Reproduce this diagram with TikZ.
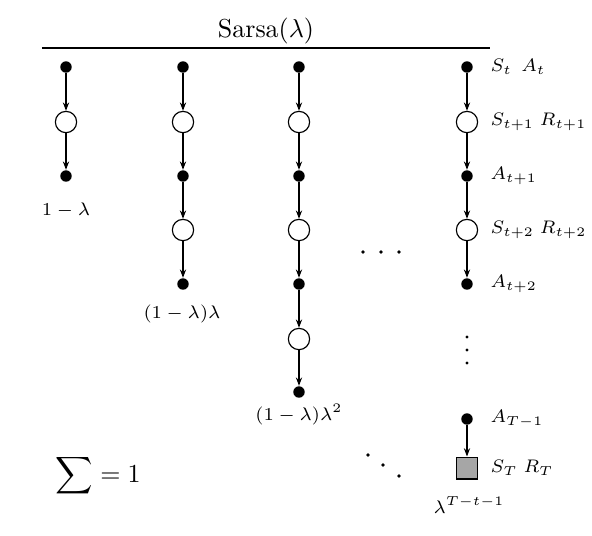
\documentclass[tikz,border=0pt]{standalone}
\usetikzlibrary{arrows.meta}
\begin{document}
\begin{tikzpicture}[x=0.385pt,y=-0.385pt,
  act/.style={circle,fill=black,inner sep=0pt,minimum size=4.4pt},
  st/.style={circle,draw,line width=0.45pt,fill=white,inner sep=0pt,minimum size=8.2pt},
  term/.style={rectangle,draw,line width=0.45pt,fill=black!35,inner sep=0pt,minimum size=8.4pt},
  sm/.style={circle,fill=black,inner sep=0pt,minimum size=1.3pt},
  arr/.style={-{Stealth[length=3.2pt,width=2.4pt]},line width=0.45pt},
  lab/.style={anchor=west,inner sep=0pt,font=\scriptsize},
  wt/.style={font=\scriptsize,inner sep=0pt}]
\useasboundingbox (0,0) rectangle (592,536);
% title
\node (title) at (266,31) {Sarsa($\lambda$)};
\coordinate (l1) at (42,48);
\coordinate (l2) at (490,48);
\draw[line width=0.45pt] (l1) -- (l2);
% column 1
\node[act] (a1) at (66,67) {};
\node[st]  (b1) at (66,122) {};
\node[act] (c1) at (66,176) {};
\draw[arr] (a1) -- (b1);
\draw[arr] (b1) -- (c1);
\node[wt] (w1) at (66,210) {$1-\lambda$};
% column 2
\node[act] (a2) at (183,67) {};
\node[st]  (b2) at (183,122) {};
\node[act] (c2) at (183,176) {};
\node[st]  (d2) at (183,230) {};
\node[act] (e2) at (183,284) {};
\draw[arr] (a2) -- (b2);
\draw[arr] (b2) -- (c2);
\draw[arr] (c2) -- (d2);
\draw[arr] (d2) -- (e2);
\node[wt] (w2) at (182,314) {$(1-\lambda)\lambda$};
% column 3
\node[act] (a3) at (299,67) {};
\node[st]  (b3) at (299,122) {};
\node[act] (c3) at (299,176) {};
\node[st]  (d3) at (299,230) {};
\node[act] (e3) at (299,284) {};
\node[st]  (f3) at (299,339) {};
\node[act] (g3) at (299,392) {};
\draw[arr] (a3) -- (b3);
\draw[arr] (b3) -- (c3);
\draw[arr] (c3) -- (d3);
\draw[arr] (d3) -- (e3);
\draw[arr] (e3) -- (f3);
\draw[arr] (f3) -- (g3);
\node[wt] (w3) at (299,415) {$(1-\lambda)\lambda^2$};
% column 4
\node[act] (a4) at (467,67) {};
\node[st]  (b4) at (467,122) {};
\node[act] (c4) at (467,176) {};
\node[st]  (d4) at (467,230) {};
\node[act] (e4) at (467,284) {};
\node[act] (f4) at (467,419) {};
\node[term] (g4) at (467,468) {};
\draw[arr] (a4) -- (b4);
\draw[arr] (b4) -- (c4);
\draw[arr] (c4) -- (d4);
\draw[arr] (d4) -- (e4);
\draw[arr] (f4) -- (g4);
\node[sm] (v1) at (467,337) {};
\node[sm] (v2) at (467,350) {};
\node[sm] (v3) at (467,363) {};
\node[wt] (w4) at (469,505) {$\lambda^{T-t-1}$};
% labels
\node[lab] (la) at (490,67) {$S_t\;\,A_t$};
\node[lab] (lb) at (490,122) {$S_{t+1}\;R_{t+1}$};
\node[lab] (lc) at (490,176) {$A_{t+1}$};
\node[lab] (ld) at (490,230) {$S_{t+2}\;R_{t+2}$};
\node[lab] (le) at (490,284) {$A_{t+2}$};
\node[lab] (lf) at (490,419) {$A_{T-1}$};
\node[lab] (lg) at (490,468) {$S_T\;R_T$};
% dots
\node[sm,minimum size=1.5pt] (h1) at (363,252) {};
\node[sm,minimum size=1.5pt] (h2) at (381,252) {};
\node[sm,minimum size=1.5pt] (h3) at (399,252) {};
\node[sm,minimum size=1.5pt] (d1) at (368,455) {};
\node[sm,minimum size=1.5pt] (dd2) at (383,465) {};
\node[sm,minimum size=1.5pt] (dd3) at (399,476) {};
% sum
\node[anchor=west,inner sep=0pt] (sum) at (55,476) {$\displaystyle\sum=1$};
\end{tikzpicture}
\end{document}
